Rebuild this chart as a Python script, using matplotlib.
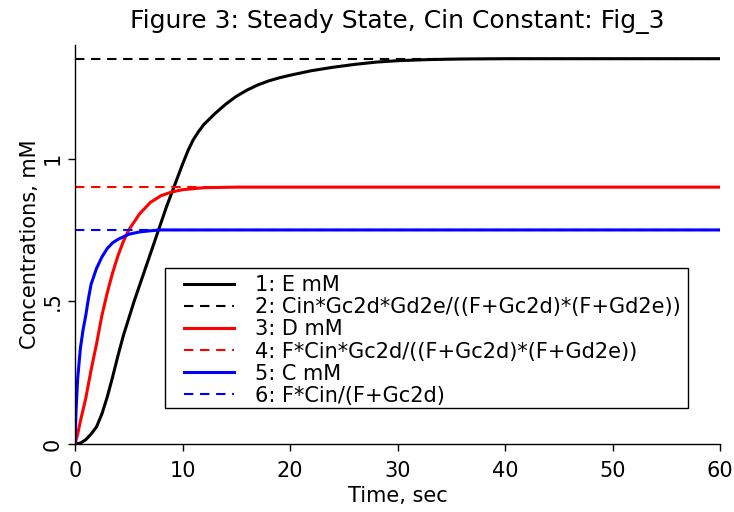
import matplotlib
matplotlib.use("Agg")
import matplotlib.pyplot as plt
from matplotlib.patches import Rectangle

# ---- data ----
t_C = [0, 0.1, 0.25, 0.5, 0.75, 1.0, 1.25, 1.5, 2.0, 2.5, 3.0, 3.5, 4.0, 5.0, 6.0, 7.0, 8.0, 10, 60]
C = [0, 0.12, 0.23, 0.335, 0.40, 0.45, 0.51, 0.56, 0.615, 0.655, 0.685, 0.705, 0.717, 0.735, 0.743, 0.747, 0.75, 0.75, 0.75]

t_D = [0, 0.25, 0.5, 1.0, 1.5, 2.0, 2.5, 3.0, 3.5, 4.0, 4.5, 5.0, 6.0, 7.0, 8.0, 9.0, 10, 12, 15, 60]
D = [0, 0.035, 0.08, 0.16, 0.26, 0.35, 0.45, 0.53, 0.60, 0.66, 0.71, 0.75, 0.806, 0.846, 0.87, 0.883, 0.891, 0.898, 0.9, 0.9]

t_E = [0, 0.5, 1.0, 1.5, 2.0, 2.5, 3.0, 3.5, 4.0, 4.5, 5.0, 5.5, 6.0, 6.5, 7.0, 7.5, 8.0, 8.5, 9.0, 9.5,
       10, 10.5, 11, 11.5, 12, 13, 14, 15, 16, 17, 18, 19, 20, 22, 24, 26, 28, 30, 33, 36, 40, 60]
E = [0, 0.003, 0.015, 0.035, 0.06, 0.105, 0.165, 0.235, 0.31, 0.38, 0.44, 0.50, 0.555, 0.61, 0.665, 0.72,
     0.775, 0.83, 0.88, 0.93, 0.98, 1.027, 1.066, 1.095, 1.12, 1.157, 1.19, 1.218, 1.24, 1.258, 1.272, 1.283, 1.292,
     1.308, 1.32, 1.33, 1.338, 1.343, 1.347, 1.349, 1.35, 1.35]

t_ss = [0, 60]
E_ss = [1.35, 1.35]
D_ss = [0.9, 0.9]
C_ss = [0.75, 0.75]

labels = ["1: E mM",
          "2: Cin*Gc2d*Gd2e/((F+Gc2d)*(F+Gd2e))",
          "3: D mM",
          "4: F*Cin*Gc2d/((F+Gc2d)*(F+Gd2e))",
          "5: C mM",
          "6: F*Cin/(F+Gc2d)"]
x_ticks = [0, 10, 20, 30, 40, 50, 60]
y_ticks = [0, 0.5, 1]
y_ticklabels = ["0", ".5", "1"]

plt.rcParams['font.family'] = ['DejaVu Sans']
fig = plt.figure(figsize=(7.34, 5.12), dpi=100)
AX_L, AX_B, AX_W, AX_H = 75, 444, 645, 399  # pixels
ax = fig.add_axes([AX_L/734, 1-AX_B/512, AX_W/734, AX_H/512])

solid_lw = 2.2
dash_lw = 1.5
dash = (4.5, 3.2)
ax.plot(t_E, E, color='black', lw=solid_lw, label=labels[0])
ax.plot(t_ss, E_ss, color='black', lw=dash_lw, dashes=dash, label=labels[1])
ax.plot(t_D, D, color='#ff0000', lw=solid_lw, label=labels[2])
ax.plot(t_ss, D_ss, color='#ff0000', lw=dash_lw, dashes=dash, label=labels[3])
ax.plot(t_C, C, color='#0000ff', lw=solid_lw, label=labels[4])
ax.plot(t_ss, C_ss, color='#0000ff', lw=dash_lw, dashes=dash, label=labels[5])

ax.set_xlim(0, 60)
ax.set_ylim(0, 1.398)
ax.set_xticks(x_ticks)
ax.set_yticks(y_ticks)
ax.set_yticklabels(y_ticklabels, rotation=90, va='center')
for s in ['top', 'right']:
    ax.spines[s].set_visible(False)
for s in ['left', 'bottom']:
    ax.spines[s].set_linewidth(1.0)
ax.tick_params(direction='out', length=5, width=1, labelsize=15, pad=7)
ax.tick_params(axis='y', pad=4)
ax.set_xlabel("Time, sec", fontsize=15, labelpad=4)
ax.set_ylabel("Concentrations, mM", fontsize=15, labelpad=2)
ax.set_title("Figure 3: Steady State, Cin Constant: Fig_3", fontsize=18, pad=12)

# legend frame (pixel box 165..688 x 268..408)
bx0, bx1, by0, by1 = 165, 688, 268, 408
ax.add_patch(Rectangle(((bx0-AX_L)/AX_W, (AX_B-by1)/AX_H), (bx1-bx0)/AX_W, (by1-by0)/AX_H,
                       transform=ax.transAxes, facecolor='white', edgecolor='black',
                       lw=1.0, zorder=4))
leg = ax.legend(loc='upper left', bbox_to_anchor=((177-AX_L)/AX_W, (AX_B-by0)/AX_H),
                borderaxespad=0, fontsize=15, frameon=False,
                handlelength=2.4, handletextpad=1.0,
                borderpad=0.35, labelspacing=0.1)
leg.set_zorder(5)

fig.savefig("out.png", dpi=100)
